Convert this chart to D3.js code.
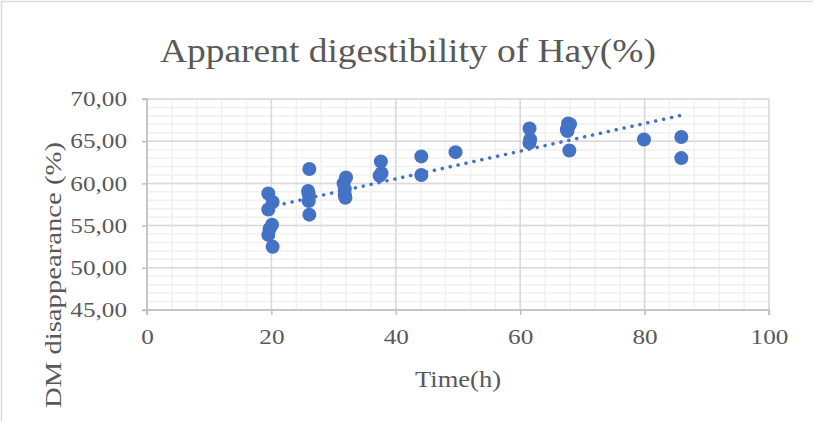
<!DOCTYPE html>
<html><head><meta charset="utf-8">
<script src="https://cdn.jsdelivr.net/npm/d3@7"></script>
<style>html,body{margin:0;padding:0;background:#fff;}</style>
</head><body>
<script>
const timeH = [19.5,20.2,19.5,20.1,19.7,19.5,20.2,
  26.1,25.9,26.0,26.0,26.1,
  32.0,31.6,31.8,31.8,31.9,
  37.6,37.7,37.4,
  44.1,44.1,
  49.6,
  61.5,61.6,61.5,
  67.7,68.0,67.5,67.6,67.9,
  79.9,
  85.9,85.9];
const dmDisappearance = [58.8,57.8,56.9,55.1,54.6,53.9,52.5,
  61.7,59.1,58.7,57.9,56.3,
  60.7,60.0,59.3,58.6,58.3,
  62.6,61.2,60.9,
  63.2,61.0,
  63.7,
  66.5,65.2,64.8,
  67.1,67.0,66.4,66.2,63.9,
  65.2,
  65.5,63.0];
const xTicks = [0,20,40,60,80,100];
const yTicks = [45,50,55,60,65,70];
const titleText = "Apparent digestibility of Hay(%)";
const xTitle = "Time(h)";
const yTitle = "DM disappearance (%)";

const W = 813, H = 421;
const m = {left:147, right:813-769, top:99, bottom:421-310};
const svg = d3.select("body").append("svg").attr("width",W).attr("height",H);
const font = "'Liberation Serif','Times New Roman',serif";
const grey = "#595959";
const widen = sel => sel.each(function(){
  const L = this.getComputedTextLength();
  d3.select(this).attr("textLength", L*1.2).attr("lengthAdjust","spacingAndGlyphs");
});

// chart border
svg.append("rect").attr("x",1.5).attr("y",1.5).attr("width",W+10).attr("height",H+10)
  .attr("fill","none").attr("stroke","#d9d9d9").attr("stroke-width",1.5);

const x = d3.scaleLinear().domain([0,100]).range([m.left, W-m.right]);
const y = d3.scaleLinear().domain([45,70]).range([H-m.bottom, m.top]);

// minor grid
const g = svg.append("g");
g.selectAll(".mx").data(d3.range(0,101,4)).join("line")
  .attr("x1",d=>x(d)).attr("x2",d=>x(d)).attr("y1",y(45)).attr("y2",y(70))
  .attr("stroke","#f0f0f0").attr("stroke-width",1.5);
g.selectAll(".my").data(d3.range(45,70.01,1)).join("line")
  .attr("y1",d=>y(d)).attr("y2",d=>y(d)).attr("x1",x(0)).attr("x2",x(100))
  .attr("stroke","#f0f0f0").attr("stroke-width",1.5);
// major grid
g.selectAll(".Mx").data(xTicks).join("line")
  .attr("x1",d=>x(d)).attr("x2",d=>x(d)).attr("y1",y(45)).attr("y2",y(70))
  .attr("stroke","#d9d9d9").attr("stroke-width",1.5);
g.selectAll(".My").data(yTicks).join("line")
  .attr("y1",d=>y(d)).attr("y2",d=>y(d)).attr("x1",x(0)).attr("x2",x(100))
  .attr("stroke","#d9d9d9").attr("stroke-width",1.5);

// axes
const fmt = d => d.toFixed(2).replace(".",",");
const xa = svg.append("g").attr("transform",`translate(0,${y(45)})`)
  .call(d3.axisBottom(x).tickValues(xTicks).tickSize(5).tickPadding(14));
const ya = svg.append("g").attr("transform",`translate(${x(0)},0)`)
  .call(d3.axisLeft(y).tickValues(yTicks).tickSize(5).tickPadding(15).tickFormat(fmt));
[xa,ya].forEach(a=>{
  a.selectAll("path,line").attr("stroke","#bfbfbf").attr("stroke-width",1.5);
  a.selectAll("text").attr("fill",grey).attr("font-family",font).attr("font-size",21).call(widen);
});
xa.select(".domain").attr("d",`M${x(0)},5V0H${x(100)}V5`);
ya.select(".domain").attr("d",`M-5,${y(70)}H0V${y(45)}H-5`);

// trendline (least squares)
const n = timeH.length;
const mx = d3.mean(timeH), my = d3.mean(dmDisappearance);
let sxy=0,sxx=0;
for(let i=0;i<n;i++){sxy+=(timeH[i]-mx)*(dmDisappearance[i]-my);sxx+=(timeH[i]-mx)**2;}
const slope=sxy/sxx, icpt=my-slope*mx;
const x0=d3.min(timeH), x1=d3.max(timeH);

// points
svg.append("g").selectAll("circle").data(timeH).join("circle")
  .attr("cx",(d)=>x(d)).attr("cy",(d,i)=>y(dmDisappearance[i])).attr("r",7)
  .attr("fill","#4472C4");

svg.append("line").attr("x1",x(x0)).attr("y1",y(icpt+slope*x0))
  .attr("x2",x(x1)).attr("y2",y(icpt+slope*x1))
  .attr("stroke","#4472C4").attr("stroke-width",3.5)
  .attr("stroke-dasharray","0.1 8").attr("stroke-linecap","round");

// titles
svg.append("text").attr("x",408).attr("y",62).attr("text-anchor","middle")
  .attr("font-family",font).attr("font-size",34).attr("fill",grey).text(titleText)
  .attr("textLength",496).attr("lengthAdjust","spacingAndGlyphs");
svg.append("text").attr("x",x(50)).attr("y",387).attr("text-anchor","middle")
  .attr("font-family",font).attr("font-size",23).attr("fill",grey).text(xTitle)
  .attr("textLength",86).attr("lengthAdjust","spacingAndGlyphs");
svg.append("text").attr("transform",`translate(61,275) rotate(-90)`).attr("text-anchor","middle")
  .attr("font-family",font).attr("font-size",23).attr("fill",grey).text(yTitle)
  .attr("textLength",266).attr("lengthAdjust","spacingAndGlyphs");
</script>
</body></html>
